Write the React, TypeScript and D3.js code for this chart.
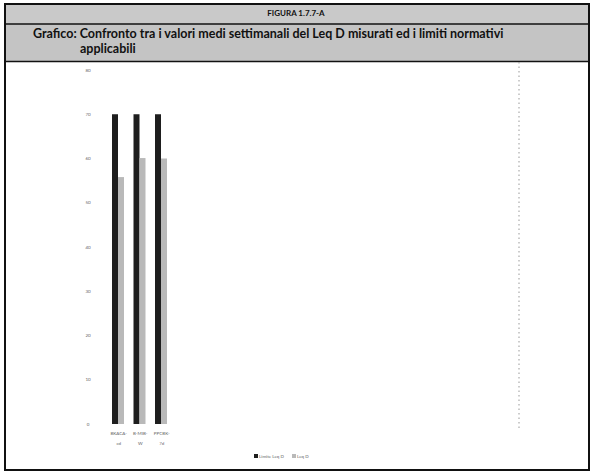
import React from "react";
import * as d3 from "d3";

const categories = ["BKACA-\ncd", "B-MIB-\nW", "PPCBK-\n7d"];
const seriesNames = ["Limite Leq D", "Leq D"];
const limitValues = [70, 70, 70];
const measuredValues = [55.8, 60.1, 60.0];
const yTicks = [0, 10, 20, 30, 40, 50, 60, 70, 80];

const W = 592;
const H = 472;

export default function App() {
  const x = d3.scaleBand<string>().domain(categories).range([107.5, 172]).paddingInner(0).paddingOuter(0);
  const inner = d3.scaleBand<string>().domain(seriesNames).range([4.5, 16.5]);
  const y = d3.scaleLinear().domain([0, 80]).range([424, 70]);
  const colors = ["#1e1e1e", "#b9b9b9"];
  const series = [limitValues, measuredValues];

  return (
    <svg width={W} height={H} style={{ position: "absolute", left: 0, top: 0, background: "#fff" }}>
      {/* header rows */}
      <rect x={5} y={4} width={584} height={20} fill="#c9c9c9" />
      <rect x={5} y={24} width={584} height={37} fill="#c4c4c4" />
      <rect x={5} y={4} width={584} height={466} fill="none" stroke="#111" strokeWidth={2} />
      <line x1={5} x2={589} y1={24} y2={24} stroke="#111" strokeWidth={1.5} />
      <line x1={5} x2={589} y1={61.5} y2={61.5} stroke="#111" strokeWidth={1.5} />
      <text x={296} y={16} textAnchor="middle" fontFamily="Lato" fontWeight="bold" fontSize={8} fill="#111">
        FIGURA 1.7.7-A
      </text>
      <text x={33} y={38} fontFamily="Lato" fontWeight="bold" fontSize={12.5} fill="#111">
        Grafico: Confronto tra i valori medi settimanali del Leq D misurati ed i limiti normativi
      </text>
      <text x={80} y={53} fontFamily="Lato" fontWeight="bold" fontSize={12.5} fill="#111">
        applicabili
      </text>

      {/* dotted vertical line */}
      <line x1={519} x2={519} y1={62} y2={428} stroke="#999" strokeWidth={1} strokeDasharray="1.5,3" />

      {/* y tick labels */}
      {yTicks.map((t) => (
        <text key={t} x={88} y={y(t) + 1.5} textAnchor="middle" fontFamily="Lato" fontSize={4.5} fill="#666">
          {t}
        </text>
      ))}

      {/* bars */}
      {categories.map((c, i) => (
        <g key={c} transform={`translate(${x(c)},0)`}>
          {series.map((s, j) => (
            <rect
              key={j}
              x={inner(seriesNames[j])}
              y={y(s[i])}
              width={inner.bandwidth()}
              height={y(0) - y(s[i])}
              fill={colors[j]}
            />
          ))}
          {c.split("\n").map((line, k) => (
            <text
              key={k}
              x={x.bandwidth() / 2 + 0.5}
              y={435 + k * 10}
              textAnchor="middle"
              fontFamily="Lato"
              fontSize={4.5}
              fill="#666"
            >
              {line}
            </text>
          ))}
        </g>
      ))}

      {/* legend */}
      <g transform="translate(254,454)">
        <rect x={0} y={0} width={4} height={4} fill={colors[0]} />
        <text x={5} y={4} fontFamily="Lato" fontSize={4.5} fill="#666">{seriesNames[0]}</text>
        <rect x={38} y={0} width={4} height={4} fill={colors[1]} />
        <text x={43} y={4} fontFamily="Lato" fontSize={4.5} fill="#666">{seriesNames[1]}</text>
      </g>
    </svg>
  );
}
